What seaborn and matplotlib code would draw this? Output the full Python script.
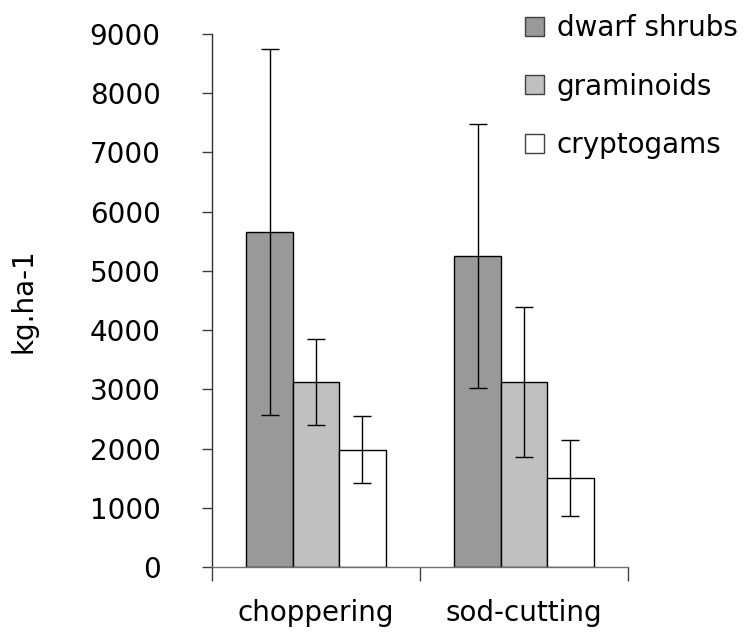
import matplotlib
matplotlib.use("Agg")
import matplotlib.pyplot as plt
import matplotlib.patches as mpatches
import numpy as np
import pandas as pd
import seaborn as sns

# Biomass per treatment and plant group (mean and error)
treatments = ["choppering", "sod-cutting"]
groups = ["dwarf shrubs", "graminoids", "cryptogams"]
dwarf_shrubs = [5660, 5250]
graminoids = [3120, 3120]
cryptogams = [1980, 1500]
dwarf_shrubs_err = [3090, 2230]
graminoids_err = [725, 1270]
cryptogams_err = [570, 645]
y_ticks = [0, 1000, 2000, 3000, 4000, 5000, 6000, 7000, 8000, 9000]
y_label = "kg.ha-1"

colors = ["#999999", "#c0c0c0", "#ffffff"]

means = [dwarf_shrubs, graminoids, cryptogams]
errs = [dwarf_shrubs_err, graminoids_err, cryptogams_err]
df = pd.DataFrame({
    "treatment": [t for g in groups for t in treatments],
    "group": [g for g in groups for t in treatments],
    "value": [v for m in means for v in m],
})

sns.set_theme(style="white")
plt.rcParams["font.family"] = ["DejaVu Sans"]
plt.rcParams["text.color"] = "black"
plt.rcParams["axes.labelcolor"] = "black"

fig = plt.figure(figsize=(7.52, 6.34), dpi=100)
ax = fig.add_axes([212 / 752, (634 - 567) / 634, (628 - 212) / 752, (567 - 34) / 634])

sns.barplot(data=df, x="treatment", y="value", hue="group", order=treatments,
            hue_order=groups, palette=colors, width=0.67, errorbar=None,
            edgecolor="black", linewidth=1.0, legend=False, ax=ax)

# error bars at the centre of each bar
for cont, err in zip(ax.containers, errs):
    for bar, e in zip(cont, err):
        xc = bar.get_x() + bar.get_width() / 2
        ax.errorbar(xc, bar.get_height(), yerr=e, fmt="none", ecolor="black",
                    elinewidth=1.0, capsize=6.2, capthick=1.0, zorder=5)

ax.set_ylim(0, 9000)
ax.set_xlim(-0.5, 1.5)
ax.set_yticks(y_ticks)
ax.set_yticklabels([str(v) for v in y_ticks], fontsize=20)
ax.tick_params(axis="y", direction="out", length=7, width=1, color="#404040",
               labelcolor="black", left=True, pad=30)

# category separators as major ticks, names as minor ticks
ax.set_xticks([-0.5, 0.5, 1.5])
ax.set_xticklabels(["", "", ""])
ax.set_xticks([0, 1], minor=True)
ax.set_xticklabels(treatments, minor=True, fontsize=20)
ax.tick_params(axis="x", which="major", direction="out", length=10, width=1,
               color="#404040", bottom=True)
ax.tick_params(axis="x", which="minor", length=0, pad=23, labelcolor="black")
ax.set_xlabel("")
ax.set_ylabel(y_label, fontsize=20, color="black")
ax.yaxis.set_label_coords(-(212 - 37) / 416, 0.5)

for side in ["top", "right"]:
    ax.spines[side].set_visible(False)
ax.spines["left"].set_color("#303030")
ax.spines["bottom"].set_color("#707070")
ax.spines["left"].set_linewidth(1)
ax.spines["bottom"].set_linewidth(1)

handles = [mpatches.Patch(facecolor=c, edgecolor="#404040", linewidth=1, label=g)
           for c, g in zip(colors, groups)]
fig.legend(handles=handles, loc="upper left",
           bbox_to_anchor=(513.5 / 752, 1 - 3 / 634),
           frameon=False, fontsize=20, handlelength=0.68, handleheight=0.68,
           handletextpad=0.47, labelspacing=1.10, borderaxespad=0)

fig.savefig("out.png", dpi=100)
